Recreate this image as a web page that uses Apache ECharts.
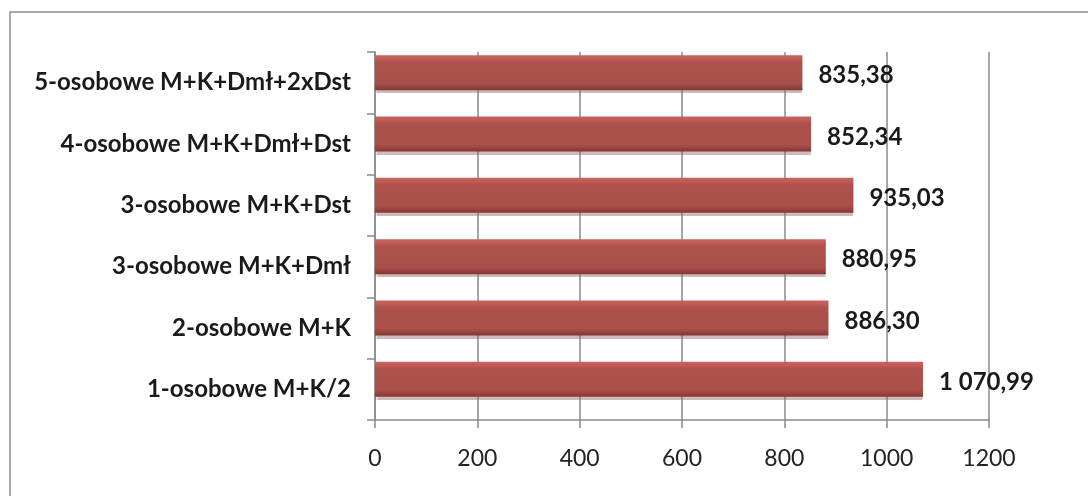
<!DOCTYPE html>
<html>
<head>
<meta charset="utf-8">
<script src="https://cdn.jsdelivr.net/npm/echarts@6/dist/echarts.min.js"></script>
<style>html,body{margin:0;padding:0;background:#fff;}#c{width:1088px;height:496px;}</style>
</head>
<body>
<div id="c"></div>
<script>
const categories = ['1-osobowe M+K/2', '2-osobowe M+K', '3-osobowe M+K+Dmł', '3-osobowe M+K+Dst', '4-osobowe M+K+Dmł+Dst', '5-osobowe M+K+Dmł+2xDst'];
const values = [1070.99, 886.30, 880.95, 935.03, 852.34, 835.38];
const xTicks = [0, 200, 400, 600, 800, 1000, 1200];

function fmt(v) {
  const parts = v.toFixed(2).split('.');
  const intPart = parts[0].replace(/\B(?=(\d{3})+(?!\d))/g, ' ');
  return intPart + ',' + parts[1];
}

const chart = echarts.init(document.getElementById('c'));
const fontFam = 'Lato';
chart.setOption({
  animation: false,
  backgroundColor: '#fff',
  graphic: [{
    type: 'rect', shape: { x: 10, y: 12, width: 1100, height: 500 },
    style: { fill: 'none', stroke: '#8c8c8c', lineWidth: 1.5 }, silent: true
  }],
  grid: { left: 375, right: 99, top: 52, bottom: 76 },
  xAxis: {
    type: 'value', min: xTicks[0], max: xTicks[xTicks.length - 1], interval: 200,
    axisLine: { show: true, lineStyle: { color: '#8a8a8a', width: 1.5 } },
    axisTick: { show: true, length: 8, lineStyle: { color: '#8a8a8a', width: 1.5 } },
    splitLine: { show: true, lineStyle: { color: '#8a8a8a', width: 1.5 } },
    axisLabel: { color: '#222', fontFamily: fontFam, fontSize: 23, margin: 27, formatter: v => String(v) }
  },
  yAxis: {
    type: 'category', data: categories,
    axisLine: { show: true, lineStyle: { color: '#8a8a8a', width: 1.5 } },
    axisTick: { show: true, length: 8, lineStyle: { color: '#8a8a8a', width: 1.5 } },
    axisLabel: { color: '#1a1a1a', fontFamily: fontFam, fontWeight: 'bold', fontSize: 24, margin: 24 }
  },
  series: [{
    type: 'bar', data: values, barWidth: 35, barGap: '0%',
    itemStyle: {
      color: new echarts.graphic.LinearGradient(0, 0, 0, 1, [
        { offset: 0, color: '#c8625c' },
        { offset: 0.12, color: '#c05a55' },
        { offset: 0.2, color: '#ad514c' },
        { offset: 0.8, color: '#ab4f4a' },
        { offset: 0.9, color: '#9a4441' },
        { offset: 1, color: '#7e3836' }
      ]),
      shadowColor: 'rgba(150,100,100,0.45)', shadowOffsetY: 3, shadowBlur: 1
    },
    label: {
      show: true, position: 'right', distance: 16, offset: [0, 3],
      formatter: p => fmt(p.value),
      color: '#1a1a1a', fontFamily: fontFam, fontWeight: 'bold', fontSize: 24
    }
  }, {
    type: 'bar', data: values.map(() => '-'), barWidth: 20, silent: true
  }]
});
</script>
</body>
</html>
